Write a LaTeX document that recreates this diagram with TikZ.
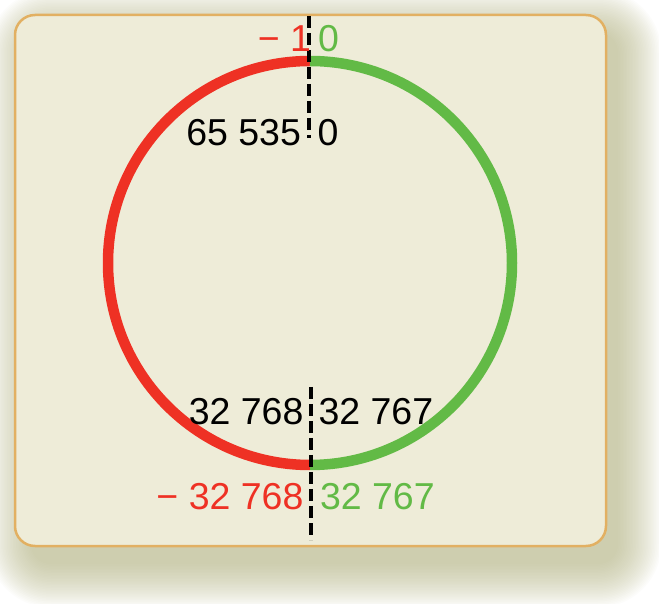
\documentclass[tikz,border=0pt]{standalone}
\usepackage{fontspec}
\setmainfont{Liberation Sans}
\definecolor{panelbg}{RGB}{238,236,216}
\definecolor{panelborder}{RGB}{226,176,98}
\definecolor{ringred}{RGB}{238,49,36}
\definecolor{ringgreen}{RGB}{98,186,70}
\definecolor{shadowc}{RGB}{175,175,125}
\begin{document}
\begin{tikzpicture}[x=1pt,y=1pt,
  lbl/.style={inner sep=0pt, outer sep=0pt, font=\fontsize{37.5}{42}\selectfont},
  ring/.style={line width=10.5pt, line cap=butt},
  divider/.style={line width=4pt, dash pattern=on 12pt off 5pt}]
\useasboundingbox (0,0) rectangle (659,603);
% shadow
\foreach \i in {0,...,29}{
  \pgfmathsetmacro{\rr}{20+1.5*\i}
  \pgfmathsetmacro{\dd}{1.5*\i}
  \fill[shadowc, fill opacity=0.03, rounded corners=\rr pt] (31-\dd,39-\dd) rectangle (618+\dd,570+\dd);
}
% panel
\draw[panelborder, fill=panelbg, line width=2.5pt, rounded corners=20pt] (15,57) rectangle (606,588);
% ring
\coordinate (ctop) at (310,542);
\coordinate (cbot) at (310,138);
\draw[ring, ringred] (ctop) arc[start angle=90, end angle=270, radius=202];
\draw[ring, ringgreen] (cbot) arc[start angle=-90, end angle=90, radius=202];
% dividers
\coordinate (da) at (308.5,587);
\coordinate (db) at (308.5,465);
\coordinate (dc) at (311,216);
\coordinate (dd) at (311,63);
\draw[divider] (da) -- (db);
\draw[divider] (dc) -- (dd);
% labels
\node[lbl, anchor=base east, text=ringred] (sm1) at (311,551) {− 1};
\node[lbl, anchor=base west, text=ringgreen] (sz) at (318,551) {0};
\node[lbl, anchor=base east] (um) at (301,457) {65 535};
\node[lbl, anchor=base west] (uz) at (317.5,457) {0};
\node[lbl, anchor=base east] (uh) at (303.5,178) {32 768};
\node[lbl, anchor=base west] (ul) at (318.5,178) {32 767};
\node[lbl, anchor=base east, text=ringred] (smin) at (303.5,93) {− 32 768};
\node[lbl, anchor=base west, text=ringgreen] (smax) at (320,93) {32 767};
\end{tikzpicture}
\end{document}
